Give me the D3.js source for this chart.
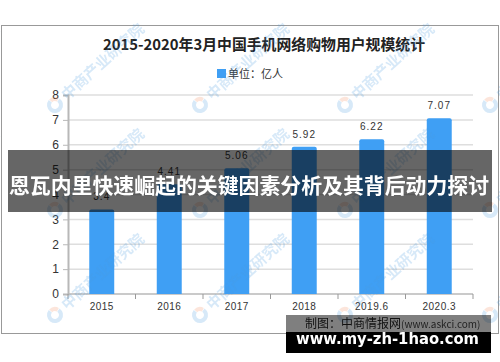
<!DOCTYPE html>
<html>
<head>
<meta charset="utf-8">
<script src="https://cdn.jsdelivr.net/npm/d3@7"></script>
<style>
  body { margin: 0; background: #fff; }
  svg { display: block; }
</style>
</head>
<body>
<div id="root"></div>
<script>
// data
var years = ["2015", "2016", "2017", "2018", "2019.6", "2020.3"];
var users = [3.4, 4.41, 5.06, 5.92, 6.22, 7.07];
var yTicks = [0, 1, 2, 3, 4, 5, 6, 7, 8];

var W = 500, H = 362;
var plot = { left: 68, right: 473, top: 95, bottom: 294 };

var svg = d3.select("#root")
    .append("svg")
    .attr("width", W)
    .attr("height", H);

// chart frame
svg.append("rect")
    .attr("x", 1.5).attr("y", 25.5)
    .attr("width", 497).attr("height", 308)
    .attr("fill", "#fff")
    .attr("stroke", "#999");

// title
svg.append("text")
    .attr("x", 264).attr("y", 50)
    .attr("text-anchor", "middle")
    .attr("textLength", 322)
    .attr("lengthAdjust", "spacingAndGlyphs")
    .style("font-family", "'Noto Sans CJK SC', sans-serif")
    .style("font-size", "15px")
    .style("font-weight", "bold")
    .attr("fill", "#222")
    .text("2015-2020年3月中国手机网络购物用户规模统计");

// legend
svg.append("rect")
    .attr("x", 217).attr("y", 69)
    .attr("width", 9).attr("height", 9)
    .attr("fill", "#3f9ff4");
svg.append("text")
    .attr("x", 228).attr("y", 78)
    .style("font-family", "'Noto Sans CJK SC', sans-serif")
    .style("font-size", "11px")
    .attr("fill", "#333")
    .text("单位：亿人");

var x = d3.scaleBand()
    .domain(years)
    .range([plot.left, plot.right])
    .paddingInner(0.63)
    .paddingOuter(0.315);

var y = d3.scaleLinear()
    .domain([0, 8])
    .range([plot.bottom, plot.top]);

// grid lines
svg.append("g")
    .selectAll("line")
    .data(yTicks.filter(d => d > 0))
    .join("line")
    .attr("x1", plot.left).attr("x2", plot.right)
    .attr("y1", d => y(d)).attr("y2", d => y(d))
    .attr("stroke", "#dedede")
    .attr("stroke-width", 1.5);

// y axis
var yAxis = svg.append("g")
    .attr("transform", "translate(" + plot.left + ",0)")
    .call(d3.axisLeft(y).tickValues(yTicks).tickSize(5).tickPadding(4).tickFormat(d3.format("d")));
yAxis.select(".domain").attr("stroke", "#b8b8b8").attr("stroke-width", 2);
yAxis.selectAll(".tick line").attr("stroke", "#b8b8b8");
yAxis.selectAll(".tick text")
    .attr("fill", "#333")
    .style("font-family", "'Liberation Sans', Arial, sans-serif")
    .style("font-size", "12px");

// x axis
var step = x.step();
var xAxis = svg.append("g")
    .attr("transform", "translate(0," + plot.bottom + ")");
xAxis.append("line")
    .attr("x1", plot.left).attr("x2", plot.right)
    .attr("stroke", "#b8b8b8").attr("stroke-width", 1.5);
xAxis.selectAll(".tk")
    .data(d3.range(years.length + 1))
    .join("line")
    .attr("class", "tk")
    .attr("x1", i => plot.left + i * step).attr("x2", i => plot.left + i * step)
    .attr("y1", 0).attr("y2", 5)
    .attr("stroke", "#999");
xAxis.selectAll("text")
    .data(years)
    .join("text")
    .attr("x", d => x(d) + x.bandwidth() / 2)
    .attr("y", 16)
    .attr("text-anchor", "middle")
    .attr("fill", "#333")
    .style("font-family", "'Liberation Sans', Arial, sans-serif")
    .style("font-size", "10px")
    .style("letter-spacing", "0.5px")
    .text(d => d);

// bars, slightly rounded at the top
function barPath(x0, w, top, bottom, r) {
    return "M" + x0 + "," + bottom +
        "V" + (top + r) +
        "Q" + x0 + "," + top + " " + (x0 + r) + "," + top +
        "H" + (x0 + w - r) +
        "Q" + (x0 + w) + "," + top + " " + (x0 + w) + "," + (top + r) +
        "V" + bottom + "Z";
}
svg.append("g")
    .selectAll("path")
    .data(years)
    .join("path")
    .attr("d", (d, i) => barPath(x(d), x.bandwidth(), y(users[i]), y(0), 2))
    .attr("fill", "#3f9ff4");

// value labels
svg.append("g")
    .selectAll("text")
    .data(years)
    .join("text")
    .attr("x", d => x(d) + x.bandwidth() / 2)
    .attr("y", (d, i) => y(users[i]) - 9)
    .attr("text-anchor", "middle")
    .attr("fill", "#333")
    .style("font-family", "'Liberation Sans', Arial, sans-serif")
    .style("font-size", "10px")
    .style("letter-spacing", "1px")
    .text((d, i) => users[i]);

// watermark
var wmX = [-90, 55, 200, 345, 490];
var wmY = [105, 210, 315];
var wm = svg.append("g").attr("opacity", 0.22);
wmY.forEach(function (yy) {
    wmX.forEach(function (xx) {
        var g = wm.append("g").attr("transform", "translate(" + xx + "," + yy + ")");
        g.append("path")
            .attr("d", d3.arc().innerRadius(4).outerRadius(8).startAngle(0.6).endAngle(Math.PI * 2 - 0.9)())
            .attr("fill", "#4a9be0");
        g.append("path")
            .attr("d", d3.arc().innerRadius(4).outerRadius(8).startAngle(Math.PI * 2 - 0.8).endAngle(Math.PI * 2 + 0.5)())
            .attr("fill", "#f08a5a");
        g.append("text")
            .attr("transform", "rotate(-42) translate(12,5)")
            .style("font-family", "'Noto Sans CJK SC', sans-serif")
            .style("font-size", "15px")
            .style("font-weight", "bold")
            .attr("fill", "#4a9be0")
            .text("中商产业研究院");
    });
});

// overlay banner
svg.append("rect")
    .attr("x", 8).attr("y", 150)
    .attr("width", 484).attr("height", 62)
    .attr("fill", "rgba(0,0,0,0.6)");
svg.append("text")
    .attr("x", 249).attr("y", 193)
    .attr("text-anchor", "middle")
    .attr("textLength", 480)
    .attr("lengthAdjust", "spacingAndGlyphs")
    .style("font-family", "'Noto Sans CJK SC', sans-serif")
    .style("font-size", "21px")
    .style("font-weight", "bold")
    .attr("fill", "#fff")
    .text("恩瓦内里快速崛起的关键因素分析及其背后动力探讨");

// source + site box
svg.append("rect")
    .attr("x", 286).attr("y", 315)
    .attr("width", 205).attr("height", 17)
    .attr("fill", "rgba(0,0,0,0.5)");
svg.append("rect")
    .attr("x", 286).attr("y", 332)
    .attr("width", 205).attr("height", 21)
    .attr("fill", "#000");
var src = svg.append("text")
    .attr("x", 305).attr("y", 328)
    .attr("fill", "#111")
    .style("font-family", "'Noto Sans CJK SC', sans-serif")
    .style("font-size", "12px");
src.append("tspan").text("制图：中商情报网");
src.append("tspan").style("font-size", "10px").attr("fill", "#222").text("(www.askci.com)");
svg.append("text")
    .attr("x", 296).attr("y", 344)
    .attr("textLength", 183)
    .attr("lengthAdjust", "spacingAndGlyphs")
    .style("font-family", "'DejaVu Sans', sans-serif")
    .style("font-size", "16px")
    .style("font-weight", "bold")
    .attr("fill", "#fff")
    .text("www.my-zh-1hao.com");
</script>
</body>
</html>
